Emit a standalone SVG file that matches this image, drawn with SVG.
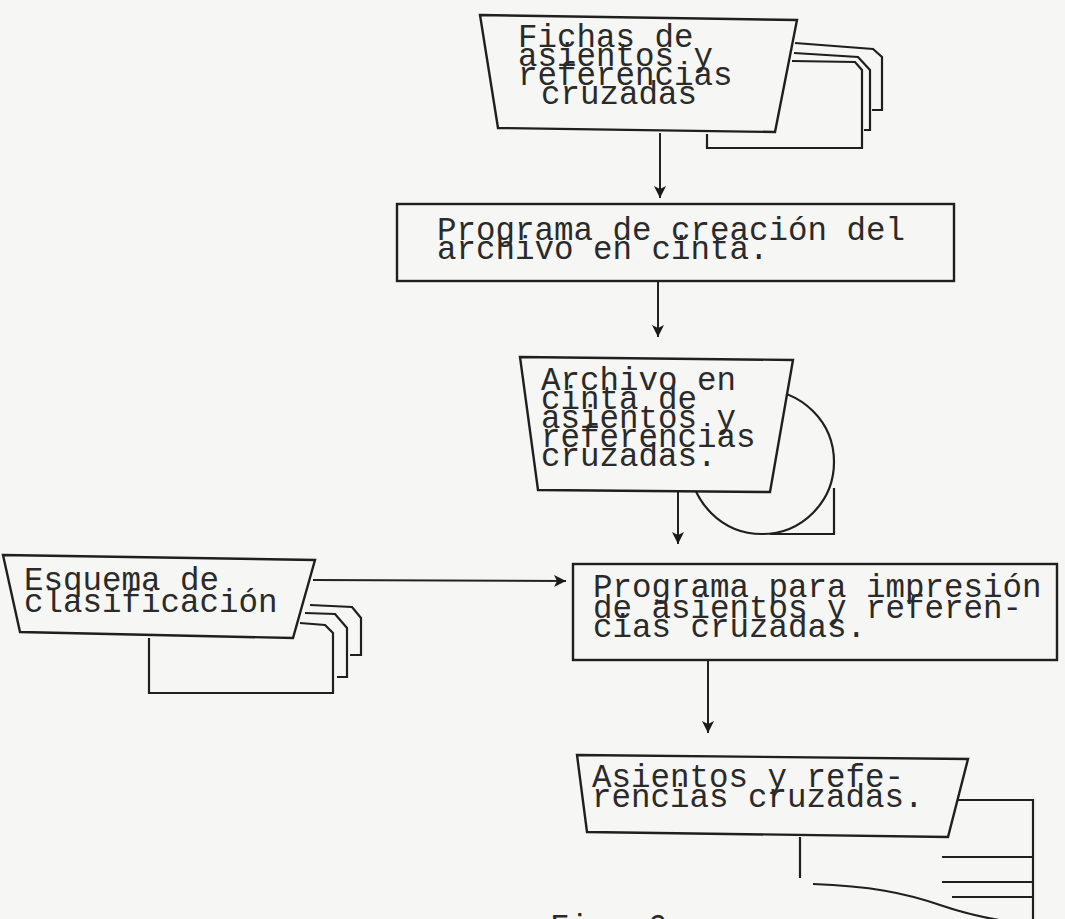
<svg xmlns="http://www.w3.org/2000/svg" width="1065" height="919" viewBox="0 0 1065 919">
  <defs>
    <style>
      .ln { fill: none; stroke: #1f1f1f; stroke-width: 2.2; stroke-linejoin: miter; }
      .box { fill: #f6f6f4; stroke: #1f1f1f; stroke-width: 2.4; }
      .tx { font-family: "Liberation Mono", "DejaVu Sans Mono", monospace; font-size: 32.5px; fill: #2a2a2a; }
      .cn { fill: none; stroke: #222; stroke-width: 2; }
    </style>
    <marker id="arr" markerUnits="userSpaceOnUse" markerWidth="14" markerHeight="14" refX="12" refY="7" orient="auto">
      <path d="M0,1 L12,7 L0,13 L3,7 z" fill="#1a1a1a"/>
    </marker>
  </defs>
  <rect x="0" y="0" width="1065" height="919" fill="#f6f6f4"/>

  <g id="connectors">
    <line class="cn" x1="660" y1="133" x2="660" y2="198" marker-end="url(#arr)"/>
    <line class="cn" x1="658" y1="282" x2="658" y2="337" marker-end="url(#arr)"/>
    <line class="cn" x1="678" y1="492" x2="678" y2="544" marker-end="url(#arr)" stroke="#444" stroke-width="1.6"/>
    <line class="cn" x1="313" y1="580" x2="566" y2="581" marker-end="url(#arr)"/>
    <line class="cn" x1="708" y1="661" x2="708" y2="733" marker-end="url(#arr)"/>
  </g>

  <g id="node-fichas">
    <path class="ln" d="M795 43 L873 49 L882 57 V110 H872"/>
    <path class="ln" d="M794 53 L858 57 L870 70 V130 H864"/>
    <path class="ln" d="M792 61 L855 62 L862 70 V148 H707 V134"/>
    <polygon class="box" points="480,15 797,20 775,132 498,128"/>
    <text class="tx" x="518" y="47">Fichas de</text>
    <text class="tx" x="518" y="66">asientos y</text>
    <text class="tx" x="518" y="85">referencias</text>
    <text class="tx" x="541" y="104">cruzadas</text>
  </g>

  <g id="node-programa-creacion">
    <rect class="box" x="397" y="204" width="557" height="77"/>
    <text class="tx" x="437" y="240">Programa de creación del</text>
    <text class="tx" x="437" y="259">archivo en cinta.</text>
  </g>

  <g id="node-archivo-cinta">
    <circle class="ln" cx="762" cy="462" r="72"/>
    <path class="ln" d="M770 534 H834 V488"/>
    <polygon class="box" points="520,357 793,360 770,492 538,490"/>
    <text class="tx" x="541" y="390">Archivo en</text>
    <text class="tx" x="541" y="409">cinta de</text>
    <text class="tx" x="541" y="428">asientos y</text>
    <text class="tx" x="541" y="447">referencias</text>
    <text class="tx" x="541" y="466">cruzadas.</text>
  </g>

  <g id="node-esquema">
    <path class="ln" d="M310 605 L352 607 L361 618 V655 H350"/>
    <path class="ln" d="M305 613 L335 614 L347 628 V677 H337"/>
    <path class="ln" d="M300 623 L325 625 L333 633 V693 H149 V638"/>
    <polygon class="box" points="3,555 315,560 293,638 20,632"/>
    <text class="tx" x="24" y="590">Esquema de</text>
    <text class="tx" x="24" y="612">clasificación</text>
  </g>

  <g id="node-programa-impresion">
    <rect class="box" x="573" y="564" width="484" height="96"/>
    <text class="tx" x="593" y="597">Programa para impresión</text>
    <text class="tx" x="593" y="618">de asientos y referen-</text>
    <text class="tx" x="593" y="637">cias cruzadas.</text>
  </g>

  <g id="node-asientos">
    <path class="ln" d="M958 800 H1033 V925"/>
    <path class="ln" d="M942 857 H1033 M942 882 H1033 M952 897 H1033"/>
    <path class="ln" d="M800 837 V878"/>
    <path class="ln" d="M813 884 C870 886 905 893 940 905 S1005 922 1035 925"/>
    <polygon class="box" points="577,755 968,759 948,837 587,832"/>
    <text class="tx" x="592" y="787">Asientos y refe-</text>
    <text class="tx" x="592" y="807">rencias cruzadas.</text>
  </g>

  <text class="tx" x="550" y="937">Fig. 6</text>
</svg>
